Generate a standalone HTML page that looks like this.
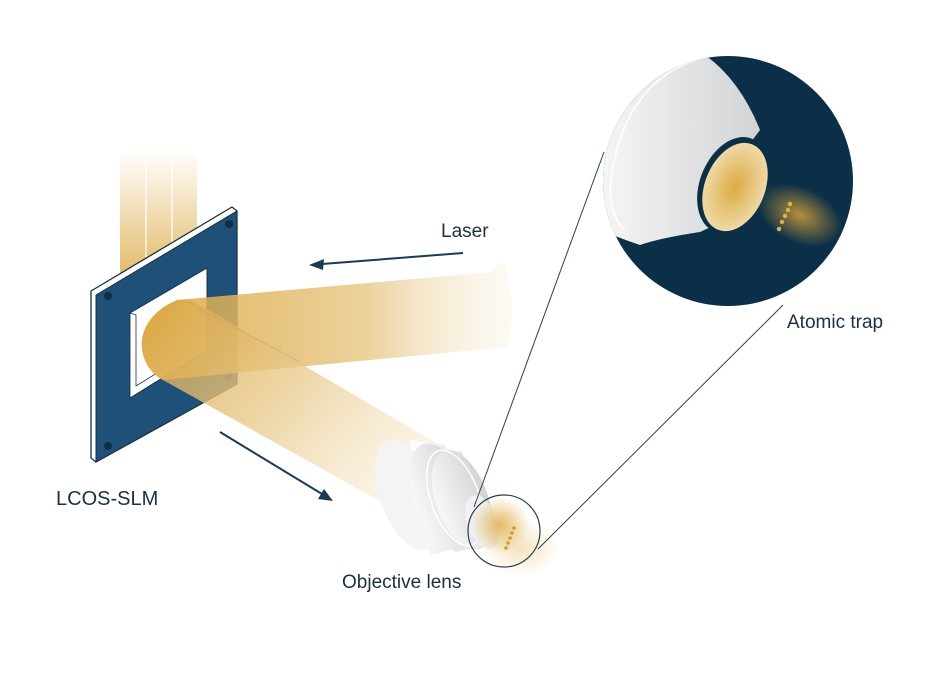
<!DOCTYPE html>
<html><head><meta charset="utf-8"><style>
html,body{margin:0;padding:0;background:#fff;}
svg{display:block;}
text{font-family:"Liberation Sans",sans-serif;fill:#1b2f44;font-size:19px;}
</style></head><body>
<svg width="950" height="673" viewBox="0 0 950 673" xmlns="http://www.w3.org/2000/svg">
<defs>
<linearGradient id="up" x1="0" y1="1" x2="0" y2="0">
<stop offset="0" stop-color="#e3bb6a"/><stop offset="1" stop-color="#e3bb6a" stop-opacity="0"/></linearGradient>
<linearGradient id="inb" x1="0" y1="0" x2="1" y2="0">
<stop offset="0" stop-color="#dba53c"/><stop offset="0.6" stop-color="#e8c989"/><stop offset="1" stop-color="#f7ecd8" stop-opacity="0.3"/></linearGradient>
<linearGradient id="outb" x1="0" y1="0" x2="1" y2="0.6">
<stop offset="0" stop-color="#d9a23a"/><stop offset="0.55" stop-color="#e9cc90"/><stop offset="1" stop-color="#f5e6c8" stop-opacity="0.6"/></linearGradient>
<linearGradient id="lens" x1="0" y1="0" x2="1" y2="0">
<stop offset="0" stop-color="#f8f8f9"/><stop offset="1" stop-color="#d2d3d6"/></linearGradient>
<linearGradient id="lens2" x1="0" y1="0" x2="1" y2="0">
<stop offset="0" stop-color="#ffffff"/><stop offset="1" stop-color="#dfe0e3"/></linearGradient>
<radialGradient id="gold" cx="0.5" cy="0.5" r="0.5">
<stop offset="0" stop-color="#dcaa42"/><stop offset="1" stop-color="#efd9a6"/></radialGradient>
<radialGradient id="glow" cx="0.5" cy="0.5" r="0.5">
<stop offset="0" stop-color="#c99a3a" stop-opacity="0.9"/><stop offset="1" stop-color="#c99a3a" stop-opacity="0"/></radialGradient>
<radialGradient id="sglow" cx="0.5" cy="0.5" r="0.5">
<stop offset="0" stop-color="#e0b150" stop-opacity="0.9"/><stop offset="1" stop-color="#e0b150" stop-opacity="0"/></radialGradient>
<clipPath id="bc"><circle cx="728" cy="181" r="125"/></clipPath>
<clipPath id="sc"><circle cx="504" cy="531" r="36"/></clipPath>
</defs>

<rect x="120" y="150" width="77" height="125" fill="url(#up)"/>
<line x1="146" y1="160" x2="146" y2="270" stroke="#fff" stroke-width="1.2"/>
<line x1="172" y1="160" x2="172" y2="260" stroke="#fff" stroke-width="1.2"/>

<polygon points="91,291 232,207 237,211 237,384 96,462 91,458" fill="#fff" stroke="#1b2f44" stroke-width="1.3"/>
<polygon points="96,295 237,211 237,384 96,462" fill="#1f5078" stroke="#1b2f44" stroke-width="1"/>
<polygon points="130,313 207,268 207,350 130,398" fill="#fff" stroke="#1b2f44" stroke-width="1"/>
<polygon points="130,398 207,350 207,342 136,386 136,315 130,313" fill="#fff" stroke="#1b2f44" stroke-width="0.8"/>
<circle cx="108" cy="296" r="4" fill="#0f2e48"/>
<circle cx="229" cy="224" r="4" fill="#0f2e48"/>
<circle cx="108" cy="446" r="4" fill="#0f2e48"/>
<circle cx="229" cy="376" r="4" fill="#0f2e48"/>

<path d="M177,300 L492,272 A10,37 0 0 1 507,347 L297,367 L163,380 C135,365 130,320 177,300 Z" fill="url(#inb)" opacity="0.85"/>
<path d="M177,300 C185,298 195,302 200,305 L440,445 L392,508 L163,380 C135,365 130,320 177,300 Z" fill="url(#outb)" opacity="0.8"/>
<line x1="185" y1="301" x2="300" y2="362" stroke="#c9a05a" stroke-width="0.8" opacity="0.6"/>

<!-- objective lens: back cylinder -->
<path d="M410,440 L445,445 L470,545 L430,555 Z" fill="url(#lens2)"/>
<ellipse cx="408" cy="495" rx="28" ry="58" transform="rotate(-20 408 495)" fill="#f4f4f5"/>
<ellipse cx="442" cy="497" rx="28" ry="56" transform="rotate(-20 442 497)" fill="url(#lens)"/>
<!-- front disc -->
<path d="M440,448 L462,452 L490,545 L455,552 Z" fill="#e6e7e9"/>
<ellipse cx="462" cy="500" rx="26" ry="52" transform="rotate(-20 462 500)" fill="url(#lens)"/>
<ellipse cx="455" cy="498" rx="24" ry="50" transform="rotate(-20 455 498)" fill="none" stroke="#fff" stroke-width="1.5"/>
<ellipse cx="482" cy="522" rx="15" ry="28" transform="rotate(-20 482 522)" fill="#f2f2f3"/>

<g clip-path="url(#sc)">
<ellipse cx="500" cy="525" rx="30" ry="28" fill="url(#sglow)"/>
</g>
<ellipse cx="520" cy="548" rx="40" ry="28" fill="url(#sglow)" opacity="0.4"/>
<circle cx="504" cy="531" r="36" fill="none" stroke="#2b3e4e" stroke-width="1.2"/>
<g fill="#d29a2c">
<circle cx="514" cy="528" r="1.8"/><circle cx="512" cy="533" r="1.8"/><circle cx="510" cy="538" r="1.8"/><circle cx="508" cy="543" r="1.8"/><circle cx="506" cy="548" r="1.8"/>
</g>

<line x1="474" y1="507" x2="604" y2="152" stroke="#2b3e4e" stroke-width="1"/>
<line x1="538" y1="549" x2="783" y2="305" stroke="#2b3e4e" stroke-width="1"/>

<circle cx="728" cy="181" r="125" fill="#0b2f47"/>
<g clip-path="url(#bc)">
<path d="M600,50 L705,55 Q740,80 760,130 L745,150 L715,225 L700,232 Q660,238 640,245 Q610,235 590,225 Z" fill="url(#lens)"/>
<path d="M705,57 Q620,80 610,190 Q612,220 625,230" fill="none" stroke="#fff" stroke-width="2" opacity="0.8"/>
<ellipse cx="800" cy="215" rx="45" ry="28" transform="rotate(25 800 215)" fill="url(#glow)"/>
<ellipse cx="733" cy="185" rx="33" ry="50" transform="rotate(22 733 185)" fill="#0b2f47"/>
<ellipse cx="735" cy="187" rx="30" ry="46" transform="rotate(22 735 187)" fill="url(#gold)"/>
</g>
<g fill="#e0b04a">
<circle cx="790" cy="204" r="2.2"/><circle cx="788" cy="210" r="2.2"/><circle cx="785" cy="216" r="2.2"/><circle cx="782" cy="222" r="2.2"/><circle cx="779" cy="229" r="2.2"/>
</g>

<line x1="463" y1="253" x2="322" y2="264" stroke="#1b3a55" stroke-width="2"/>
<polygon points="309,265 324,259 323,270" fill="#1b3a55"/>
<line x1="220" y1="432" x2="322" y2="494" stroke="#1b3a55" stroke-width="2"/>
<polygon points="333,501 318,499 324,489" fill="#1b3a55"/>

<text x="441" y="237">Laser</text>
<text x="56" y="505" style="font-size:20px">LCOS-SLM</text>
<text x="342" y="588">Objective lens</text>
<text x="787" y="328">Atomic trap</text>
</svg>
</body></html>
